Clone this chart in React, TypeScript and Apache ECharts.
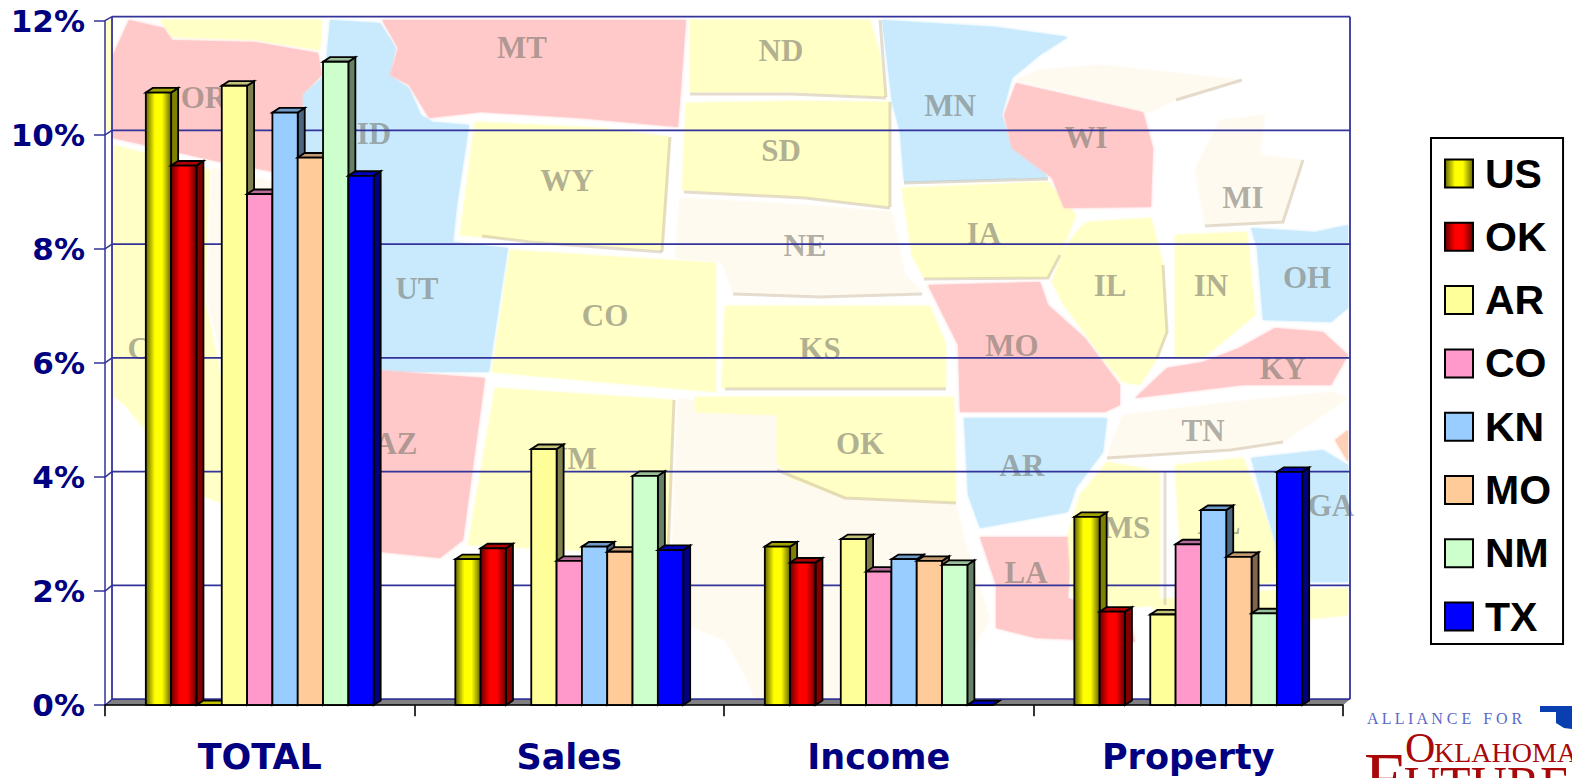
import React, { useEffect, useRef } from "react";
import * as echarts from "echarts";

const categories = ["TOTAL", "Sales", "Income", "Property"];
const yTicks = [0, 2, 4, 6, 8, 10, 12];

const usValues = [10.74, 2.56, 2.78, 3.3];
const okValues = [9.46, 2.75, 2.5, 1.64];
const blankValues = [0, null, null, null];
const arValues = [10.86, 4.49, 2.91, 1.59];
const coValues = [8.96, 2.53, 2.34, 2.82];
const knValues = [10.39, 2.78, 2.56, 3.42];
const moValues = [9.6, 2.69, 2.53, 2.6];
const nmValues = [11.28, 4.02, 2.46, 1.61];
const txValues = [9.28, 2.72, 0, 4.09];

const legendNames = ["US", "OK", "AR", "CO", "KN", "MO", "NM", "TX"];

const shine = (edge: string, mid: string) => ({
  type: "linear", x: 0, y: 0, x2: 1, y2: 0,
  colorStops: [
    { offset: 0, color: edge },
    { offset: 0.36, color: mid },
    { offset: 0.64, color: mid },
    { offset: 1, color: edge },
  ],
});

const seriesDefs: any[] = [
  { name: "US", values: usValues, front: shine("#666600", "#ffff00"), side: "#808000", top: "#a3a300" },
  { name: "OK", values: okValues, front: shine("#660000", "#ff0000"), side: "#800000", top: "#b00000" },
  { name: "", values: blankValues, front: "#ffff00", side: "#808000", top: "#c2c200" },
  { name: "AR", values: arValues, front: "#ffff99", side: "#80804d", top: "#c4c47a" },
  { name: "CO", values: coValues, front: "#ff99cc", side: "#804d66", top: "#b86d98" },
  { name: "KN", values: knValues, front: "#99ccff", side: "#4d6680", top: "#6f9bc9" },
  { name: "MO", values: moValues, front: "#ffcc99", side: "#80664d", top: "#c29a72" },
  { name: "NM", values: nmValues, front: "#ccffcc", side: "#668066", top: "#9abf9a" },
  { name: "TX", values: txValues, front: "#0000ff", side: "#000080", top: "#0000bf" },
];

const PINK = "#ffc9c9";
const YELLOW = "#ffffc6";
const BLUE = "#c9eafd";
const CREAM = "#fffaf0";

const stateShapes: [string, number[][]][] = [
  [CREAM, [[678, 398], [777, 415], [777, 462], [790, 478], [845, 498], [956, 505], [965, 540], [990, 620], [975, 645], [950, 699], [755, 699], [745, 675], [725, 640], [672, 620], [672, 555]]],
  [YELLOW, [[160, 20], [322, 20], [320, 50], [255, 40], [172, 37]]],
  [PINK, [[129, 20], [164, 28], [172, 40], [255, 42], [318, 53], [322, 75], [303, 95], [303, 148], [275, 172], [220, 162], [113, 138], [113, 55]]],
  [YELLOW, [[113, 145], [210, 170], [205, 300], [240, 470], [228, 505], [200, 495], [125, 405], [113, 395]]],
  [CREAM, [[212, 168], [290, 185], [345, 375], [250, 465], [207, 300]]],
  [BLUE, [[330, 20], [380, 23], [396, 48], [390, 75], [409, 88], [421, 115], [433, 122], [469, 125], [457, 205], [453, 242], [508, 248], [489, 372], [345, 372], [303, 148], [303, 95], [325, 75]]],
  [PINK, [[382, 20], [686, 20], [678, 127], [579, 118], [481, 112], [429, 118], [421, 105], [409, 85], [390, 75], [398, 48]]],
  [YELLOW, [[475, 122], [600, 128], [670, 137], [662, 250], [520, 240], [460, 235]]],
  [YELLOW, [[690, 20], [870, 20], [880, 55], [886, 97], [790, 92], [690, 92]]],
  [YELLOW, [[686, 103], [793, 101], [890, 102], [890, 207], [805, 197], [725, 193], [682, 190]]],
  [CREAM, [[680, 198], [805, 205], [892, 212], [905, 275], [922, 292], [820, 296], [733, 293], [722, 262], [675, 258]]],
  [YELLOW, [[510, 250], [716, 263], [716, 392], [492, 372]]],
  [YELLOW, [[725, 306], [930, 306], [946, 345], [946, 388], [722, 388]]],
  [YELLOW, [[695, 397], [954, 397], [956, 503], [845, 498], [790, 478], [777, 462], [777, 415], [695, 412]]],
  [YELLOW, [[495, 388], [674, 400], [668, 555], [468, 545]]],
  [PINK, [[345, 368], [485, 378], [463, 540], [440, 558], [382, 552], [345, 530]]],
  [PINK, [[928, 285], [1040, 282], [1048, 305], [1085, 338], [1120, 385], [1120, 405], [1105, 412], [960, 412], [958, 345]]],
  [YELLOW, [[902, 188], [1048, 182], [1076, 215], [1060, 255], [1048, 278], [924, 278], [912, 255]]],
  [BLUE, [[882, 20], [996, 27], [1068, 37], [1040, 55], [1012, 78], [1002, 115], [1012, 148], [1044, 172], [1048, 178], [904, 182], [900, 132], [892, 102]]],
  [PINK, [[1016, 83], [1143, 112], [1153, 148], [1151, 207], [1064, 208], [1052, 178], [1012, 148], [1004, 115]]],
  [CREAM, [[1040, 70], [1100, 65], [1242, 80], [1175, 100], [1150, 112], [1016, 80]]],
  [CREAM, [[1195, 170], [1220, 120], [1265, 115], [1260, 155], [1303, 160], [1290, 200], [1283, 222], [1205, 225]]],
  [YELLOW, [[1088, 222], [1151, 218], [1163, 265], [1167, 332], [1157, 358], [1140, 385], [1123, 382], [1108, 365], [1064, 305], [1052, 282], [1064, 248], [1080, 228]]],
  [YELLOW, [[1175, 235], [1247, 232], [1255, 315], [1203, 358], [1175, 358]]],
  [BLUE, [[1251, 228], [1315, 232], [1348, 225], [1348, 308], [1331, 322], [1263, 320], [1257, 248]]],
  [PINK, [[1239, 348], [1275, 328], [1323, 332], [1348, 355], [1331, 385], [1243, 385], [1135, 398], [1167, 368], [1203, 362]]],
  [CREAM, [[1123, 415], [1231, 402], [1331, 392], [1348, 398], [1283, 442], [1231, 450], [1107, 458], [1115, 435]]],
  [BLUE, [[964, 418], [1107, 418], [1103, 452], [1076, 488], [1068, 512], [980, 528], [968, 495]]],
  [PINK, [[980, 537], [1072, 537], [1068, 598], [1131, 622], [1135, 642], [1036, 638], [996, 628], [996, 585]]],
  [YELLOW, [[1080, 495], [1107, 462], [1160, 472], [1160, 605], [1123, 608], [1072, 595], [1068, 535]]],
  [YELLOW, [[1175, 465], [1243, 458], [1275, 542], [1275, 582], [1183, 595]]],
  [YELLOW, [[1150, 600], [1280, 590], [1348, 588], [1348, 615], [1300, 620], [1250, 625], [1160, 620]]],
  [BLUE, [[1251, 458], [1323, 450], [1348, 465], [1348, 582], [1279, 582], [1275, 542]]],
  ["#ffd0b8", [[1335, 440], [1348, 430], [1348, 462]]],
];

const stateEdges: number[][][] = [
  [[690, 94], [790, 94], [886, 98]],
  [[880, 20], [886, 97]],
  [[684, 192], [725, 194], [805, 198], [890, 208]],
  [[890, 102], [890, 207]],
  [[733, 294], [820, 297], [922, 294]],
  [[725, 389], [946, 389]],
  [[670, 137], [662, 252]],
  [[482, 236], [530, 242], [662, 252]],
  [[777, 470], [845, 498], [956, 503]],
  [[1163, 265], [1167, 332], [1157, 358]],
  [[1165, 472], [1165, 605]],
  [[904, 183], [1048, 179]],
  [[1060, 255], [1048, 278], [924, 279]],
  [[1107, 458], [1231, 450], [1283, 442]],
  [[674, 400], [668, 555]],
  [[1205, 226], [1283, 222], [1303, 160]],
  [[1176, 100], [1242, 80]],
];

const stateLabels: [string, number, number][] = [
  ["OR", 204, 97], ["ID", 374, 133], ["WY", 567, 180], ["MT", 522, 47], ["UT", 417, 288], ["CO", 605, 315],
  ["ND", 781, 50], ["SD", 781, 150], ["NE", 805, 245], ["KS", 820, 348], ["MN", 950, 105], ["WI", 1086, 137],
  ["IA", 984, 233], ["MO", 1012, 345], ["IL", 1110, 285], ["IN", 1211, 285], ["OH", 1307, 277], ["MI", 1243, 197],
  ["KY", 1283, 368], ["TN", 1203, 430], ["OK", 860, 443], ["AR", 1022, 465], ["LA", 1026, 572], ["MS", 1127, 527],
  ["AL", 1219, 523], ["GA", 1331, 505], ["AZ", 396, 443], ["NM", 571, 458], ["CA", 150, 348],
];

const SLOT = 0.0818;
const BAR_DX = 7;
const BAR_DY = 4.6;
const NAVY = "#000080";
const WALL = "#333399";

function barRenderer(def: any, slotIndex: number) {
  return (_params: any, api: any) => {
    const cat = api.value(0);
    const v = api.value(1);
    const top = api.coord([cat, v]);
    const base = api.coord([cat, 0]);
    const slot = api.size([1, 0])[0] * SLOT;
    const x0 = top[0] + (slotIndex - 4.5) * slot;
    const x1 = x0 + slot;
    const y0 = top[1];
    const y1 = base[1];
    const line = { stroke: "#000", lineWidth: 1.8 };
    return {
      type: "group",
      children: [
        { type: "polygon", shape: { points: [[x1, y0], [x1 + BAR_DX, y0 - BAR_DY], [x1 + BAR_DX, y1 - BAR_DY], [x1, y1]] }, style: { fill: def.side, ...line } },
        { type: "polygon", shape: { points: [[x0, y0], [x0 + BAR_DX, y0 - BAR_DY], [x1 + BAR_DX, y0 - BAR_DY], [x1, y0]] }, style: { fill: def.top, ...line } },
        { type: "rect", shape: { x: x0, y: y0, width: slot, height: y1 - y0 }, style: { fill: def.front, ...line } },
      ],
    };
  };
}

function frameRenderer(params: any, api: any) {
  const v = api.value(0);
  const cs = params.coordSys;
  const y = api.coord([0, v])[1];
  const dy = 6 - (v / 12) * 2;
  const left = cs.x;
  const right = cs.x + cs.width;
  const children: any[] = [];
  if (v === 0) {
    children.push({
      type: "polygon",
      shape: { points: [[left, y], [left + 7, y - dy], [right + 7, y - dy], [right, y]] },
      style: { fill: "#808080", stroke: null },
    });
  }
  children.push({ type: "line", shape: { x1: left + 7, y1: y - dy, x2: right + 7, y2: y - dy }, style: { stroke: WALL, lineWidth: 1.8 } });
  children.push({ type: "line", shape: { x1: left, y1: y, x2: left + 7, y2: y - dy }, style: { stroke: WALL, lineWidth: 1.5 } });
  if (v === 12) {
    const bottom = api.coord([0, 0])[1] - 6;
    children.push({ type: "line", shape: { x1: left + 7, y1: y - dy, x2: left + 7, y2: bottom }, style: { stroke: WALL, lineWidth: 1.8 } });
    children.push({ type: "line", shape: { x1: right + 7, y1: y - dy, x2: right + 7, y2: bottom }, style: { stroke: WALL, lineWidth: 1.8 } });
  }
  return { type: "group", children };
}

function mapGraphics() {
  const out: any[] = [];
  out.push({ type: "rect", z: -5, shape: { x: 105, y: 20, width: 7, height: 110 }, style: { fill: YELLOW } });
  stateShapes.forEach(([color, pts]) => {
    out.push({
      type: "polygon", z: -4, shape: { points: pts },
      style: { fill: color, shadowBlur: 3, shadowColor: color },
    });
  });
  stateEdges.forEach((pts) => {
    out.push({
      type: "polyline", z: -3, shape: { points: pts },
      style: { stroke: "rgba(190,170,140,0.4)", lineWidth: 3, fill: null },
    });
  });
  stateLabels.forEach(([text, x, y]) => {
    out.push({
      type: "text", z: -2, x, y,
      style: {
        text, fill: "rgba(110,110,100,0.55)", font: "bold 31px 'Liberation Serif'",
        align: "center", verticalAlign: "middle",
        shadowBlur: 2, shadowColor: "rgba(120,120,110,0.5)",
      },
    });
  });
  return out;
}

function logoGraphics() {
  const red = "#a80808";
  const text = (t: string, x: number, baseline: number, size: number, fill: string) => ({
    type: "text", x, y: baseline + size * 0.216,
    style: { text: t, fill, font: `${size}px 'Liberation Serif'`, align: "left", verticalAlign: "bottom" },
  });
  return [
    text("A L L I A N C E   F O R", 1367, 723, 16, "#5a68c8"),
    { type: "polygon", shape: { points: [[1540, 706], [1572, 706], [1572, 729], [1564, 728], [1556, 723], [1556, 712], [1540, 712]] }, style: { fill: "#0a3fb0" } },
    text("O", 1405, 760, 42, red),
    text("KLAHOMA'S", 1434, 760, 28, red),
    text("F", 1364, 798, 72, red),
    text("UTURE", 1404, 798, 50, red),
  ];
}

export default function App() {
  const ref = useRef<HTMLDivElement>(null);
  useEffect(() => {
    const chart = echarts.init(ref.current!, null, { renderer: "svg" });
    const barSeries = seriesDefs.map((def, i) => ({
      type: "custom",
      name: def.name,
      coordinateSystem: "cartesian2d",
      clip: false,
      z: 5 + i,
      itemStyle: { color: def.front },
      encode: { x: 0, y: 1 },
      data: def.values
        .map((v: number | null, c: number) => (v === null ? null : [c, v]))
        .filter((d: any) => d !== null),
      renderItem: barRenderer(def, i),
    }));
    chart.setOption({
      animation: false,
      backgroundColor: "#fff",
      grid: { left: 105, top: 20.7, width: 1238, height: 684.5, containLabel: false },
      xAxis: {
        type: "category",
        data: categories,
        z: 30,
        axisLine: { lineStyle: { color: "#000", width: 1.6 } },
        axisTick: { show: true, length: 11, lineStyle: { color: "#000", width: 1.6 } },
        axisLabel: { color: NAVY, fontFamily: "DejaVu Sans", fontWeight: "bold", fontSize: 35, margin: 34, interval: 0 },
      },
      yAxis: {
        type: "value",
        min: 0,
        max: 12,
        interval: 2,
        splitLine: { show: false },
        axisLine: { show: true, lineStyle: { color: WALL, width: 1.5 } },
        axisTick: { show: true, length: 11, lineStyle: { color: WALL, width: 1.5 } },
        axisLabel: { color: NAVY, fontFamily: "DejaVu Sans", fontWeight: "bold", fontSize: 31, margin: 20, formatter: "{value}%" },
      },
      legend: {
        data: legendNames,
        orient: "vertical",
        left: 1431,
        top: 138,
        padding: [15, 12, 7, 13],
        itemWidth: 28,
        itemHeight: 28,
        itemGap: 22.3,
        icon: "rect",
        selectedMode: false,
        backgroundColor: "#fff",
        borderColor: "#000",
        borderWidth: 2,
        itemStyle: { borderColor: "#000", borderWidth: 2 },
        textStyle: { color: "#000", fontFamily: "Liberation Sans", fontWeight: "bold", fontSize: 41, padding: [0, 0, 0, 7] },
      },
      graphic: { elements: [...mapGraphics(), ...logoGraphics()] },
      series: [
        {
          type: "custom",
          name: "frame",
          coordinateSystem: "cartesian2d",
          clip: false,
          z: 3,
          encode: { y: 0 },
          data: yTicks.map((t) => [t]),
          renderItem: frameRenderer,
        },
        ...barSeries,
      ],
    });
    return () => chart.dispose();
  }, []);
  return <div ref={ref} style={{ position: "fixed", left: 0, top: 0, width: 1572, height: 778 }} />;
}
